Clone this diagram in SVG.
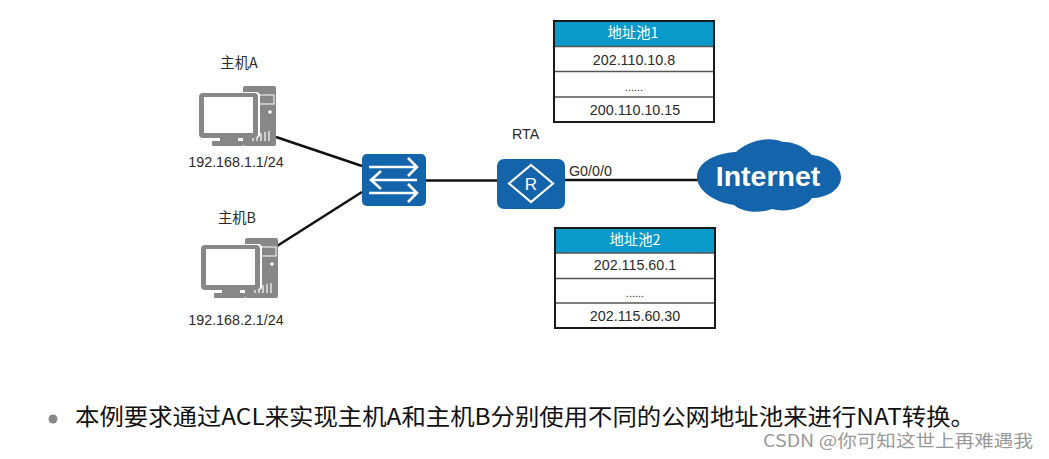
<svg xmlns="http://www.w3.org/2000/svg" width="1049" height="459" viewBox="0 0 1049 459">
<style>
text{font-family:"Noto Sans CJK SC","Liberation Sans",sans-serif;fill:#2a2a2a}
.lat{font-family:"Liberation Sans","Noto Sans CJK SC",sans-serif}
.s{font-size:14.300px}
.m{text-anchor:middle}
.pc{fill:#878787}
.frame{fill:none;stroke:#1a1a1a;stroke-width:2}
.sep{stroke:#555;stroke-width:1.5}
.wire{stroke:#111;stroke-width:2.500;fill:none}
.blue{fill:#1464ab}
.wl{stroke:#fff;stroke-width:2.600;fill:none}
</style>
<defs>
<g id="pcicon">
<rect class="pc" x="45" y="0" width="33" height="60" rx="2"/>
<rect x="47" y="9" width="29" height="9" fill="none" stroke="#fff" stroke-width="1"/>
<circle cx="72" cy="26" r="1.800" fill="#fff"/>
<path d="M55 55V50M59 55V48M63 55V47M67 55V46M71 55V45" stroke="#fff" stroke-width="1.200"/>
<rect x="0" y="6" width="62" height="46" rx="4" fill="#fff"/>
<rect class="pc" x="1" y="7" width="59" height="45" rx="4"/>
<rect x="6" y="11" width="49" height="36" fill="#fff"/>
<rect class="pc" x="22" y="52" width="18" height="4"/>
<rect class="pc" x="14" y="55" width="31" height="5" rx="1"/>
</g>
</defs>
<rect width="1049" height="459" fill="#fff"/>
<g id="connectors">
<path class="wire" d="M276 137L362 166"/>
<path class="wire" d="M277 246L362 192"/>
<path class="wire" d="M425 180.500H497"/>
<path class="wire" d="M564 180H700"/>
</g>
<g id="hostA">
<use href="#pcicon" x="198" y="86"/>
<text class="s m" x="239" y="68">主机A</text>
<text class="s m lat" x="236" y="167">192.168.1.1/24</text>
</g>
<g id="hostB">
<use href="#pcicon" x="200" y="238"/>
<text class="s m" x="237" y="223">主机B</text>
<text class="s m lat" x="236" y="325">192.168.2.1/24</text>
</g>
<g id="switch">
<rect class="blue" x="362" y="154" width="64" height="52" rx="5"/>
<path class="wl" d="M369 167H416M408 158L417 167L408 176M417 180H372M381 171L371 180L381 189M369 193H417M408 184L417 193L408 202"/>
</g>
<g id="router">
<rect class="blue" x="497" y="159" width="68" height="50" rx="7"/>
<path d="M531 165L553 183.500L531 202L509 183.500Z" fill="none" stroke="#fff" stroke-width="2.200"/>
<text class="lat m" x="531" y="190" font-size="17" style="fill:#fff">R</text>
<text class="s lat" x="512" y="139">RTA</text>
<text class="s lat" x="569" y="176">G0/0/0</text>
</g>
<g id="internet">
<path class="blue" d="M697 177C697 162 716 153 736 152C746 142 768 135 783 142C794 141 806 148 812 155C830 157 841 167 841 177C841 190 826 198 812 198C806 208 786 213 772 209C758 214 742 212 734 205C718 203 697 192 697 177Z"/>
<text class="lat m" x="768" y="186" font-size="28.500" font-weight="700" style="fill:#fff">Internet</text>
</g>
<g id="pool1">
<rect x="554" y="21" width="160" height="25" fill="#0a9ac9"/>
<rect x="554" y="46" width="160" height="76" fill="#fff"/>
<path class="sep" d="M554 46.500H714M554 71.500H714M554 97H714"/>
<rect class="frame" x="554" y="21" width="160" height="101"/>
<text class="s m" x="633" y="38" style="fill:#fff">地址池1</text>
<text class="s m lat" x="634" y="65">202.110.10.8</text>
<text class="m lat" x="634" y="91" font-size="11">......</text>
<text class="s m lat" x="635" y="115">200.110.10.15</text>
</g>
<g id="pool2">
<rect x="555" y="228" width="160" height="25" fill="#0a9ac9"/>
<rect x="555" y="253" width="160" height="75" fill="#fff"/>
<path class="sep" d="M555 253H715M555 278.500H715M555 303H715"/>
<rect class="frame" x="555" y="228" width="160" height="100"/>
<text class="s m" x="635" y="245" style="fill:#fff">地址池2</text>
<text class="s m lat" x="635" y="270">202.115.60.1</text>
<text class="m lat" x="635" y="297" font-size="11">......</text>
<text class="s m lat" x="635" y="321">202.115.60.30</text>
</g>
<g id="caption">
<circle cx="53" cy="419" r="4.500" fill="#888"/>
<text x="75" y="425" font-size="22.500" textLength="900" lengthAdjust="spacingAndGlyphs" style="fill:#111">本例要求通过ACL来实现主机A和主机B分别使用不同的公网地址池来进行NAT转换。</text>
<text x="763" y="447" font-size="17" textLength="270" lengthAdjust="spacingAndGlyphs" style="fill:#999">CSDN @你可知这世上再难遇我</text>
</g>
</svg>
